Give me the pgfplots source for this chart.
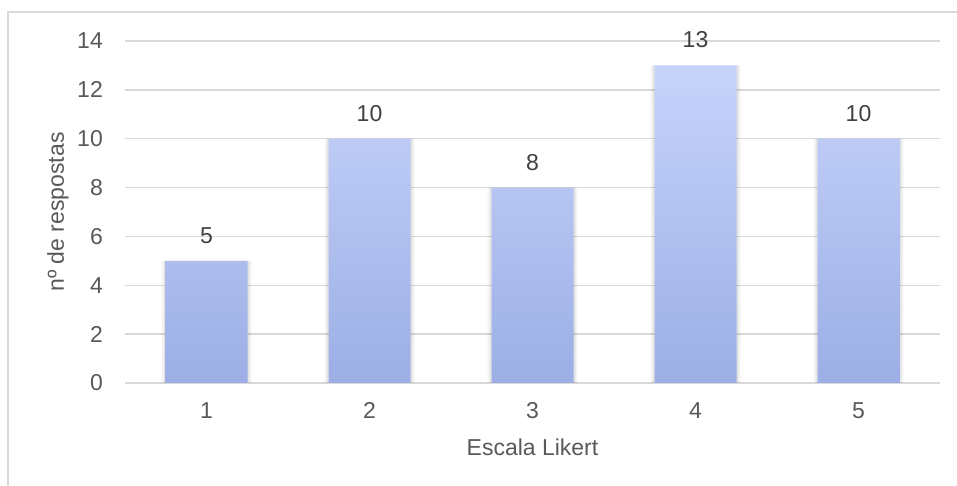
\documentclass[border=0pt]{standalone}
\usepackage{fontspec}
\setmainfont{Liberation Sans}
\usepackage{pgfplots}
\pgfplotsset{compat=1.18}
\definecolor{gridgray}{HTML}{D9D9D9}
\definecolor{txt}{HTML}{595959}
\definecolor{lbl}{HTML}{404040}
\definecolor{bartop}{HTML}{C6D3FA}
\definecolor{barbot}{HTML}{9CAEE5}
\pgfplotstableread{
x y
1 5
2 10
3 8
4 13
5 10
}\likert
\newcommand{\chartfont}{\fontsize{23}{27}\selectfont}
\begin{document}
\begin{tikzpicture}[x=1pt,y=1pt]
\useasboundingbox (0,0) rectangle (957,486);
\fill[white] (0,0) rectangle (957,486);
% chart frame
\draw[gridgray, line width=2pt] (8,0) -- (8,474) -- (957,474);
\begin{axis}[
  at={(125pt,103pt)}, anchor=south west,
  scale only axis, width=815pt, height=342pt,
  xmin=0.5, xmax=5.5, ymin=0, ymax=14,
  xtick={1,2,3,4,5}, ytick={0,2,...,14},
  axis line style={draw=none}, major tick length=0pt,
  ymajorgrids, grid style={gridgray, line width=1.5pt},
  clip=false,
  /pgf/number format/assume math mode=true,
  tick label style={font=\chartfont, text=txt},
  yticklabel style={anchor=east, inner sep=0pt, xshift=-22pt},
  xticklabel style={anchor=north, inner sep=0pt, yshift=-19pt},
  xlabel={Escala Likert},
  ylabel={nº de respostas},
  label style={font=\chartfont, text=txt},
  xlabel style={at={(axis description cs:0.5,-0.187)}, anchor=center, inner sep=0pt},
  ylabel style={at={(axis description cs:-0.0822,0.5)}, anchor=center, rotate=0, inner sep=0pt},
]
% soft shadow behind bars
\addplot[ybar, bar width=90pt, bar shift=0pt, draw=none, fill=black, fill opacity=0.04, forget plot] table[x=x,y=y] {\likert};
\addplot[ybar, bar width=86pt, bar shift=0pt, draw=none, fill=black, fill opacity=0.07, forget plot] table[x=x,y=y] {\likert};
% gradient bars
\addplot[ybar, bar width=82pt, bar shift=0pt, draw=none, top color=bartop, bottom color=barbot,
  nodes near coords,
  nodes near coords style={font=\chartfont, text=lbl, anchor=south, inner sep=0pt, yshift=17pt}]
  table[x=x,y=y] {\likert};
\end{axis}
\end{tikzpicture}
\end{document}
